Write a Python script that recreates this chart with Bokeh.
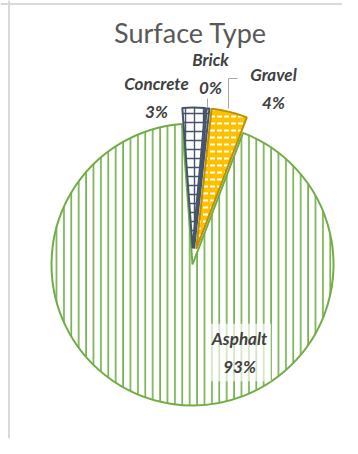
import math
from bokeh.plotting import figure
from bokeh.models import Range1d, Span
from bokeh.core.properties import value
from bokeh.embed import file_html
from bokeh.resources import INLINE

# ---- data ----
title = "Surface Type"
categories = ["Asphalt", "Concrete", "Brick", "Gravel"]
shares = [93.0, 2.6, 0.3, 4.1]

# ---- layout / style ----
W, H = 342, 438
OX, OY = 0, 0                      # page offset of the canvas as observed
CX, CY, R = 192, 264, 141          # pie centre (page px) and radius
FIRST_ANGLE = 21.0                 # degrees clockwise from 12 o'clock
explode = [0, 16, 16, 16]
fills = ["white", "white", "white", "#FFC000"]
hatches = ["|", "+", "+", '"']
hatch_colors = ["#70AD47", "#44546A", "#44546A", "white"]
hatch_scales = [7.4, 9, 9, 7]
hatch_weights = [1.6, 1.4, 1.4, 2.0]
outline_colors = ["#70AD47", "#44546A", "#44546A", "#BF9000"]
# label block centres, page pixels
label_pos = [(239, 352), (156, 97), (210, 73), (273, 88)]

def px(x):
    return x - OX

def py(y):
    return H - (y - OY)

p = figure(width=W, height=H, x_range=Range1d(0, W), y_range=Range1d(0, H),
           output_backend="svg", toolbar_location=None, min_border=0)
p.axis.visible = False
p.grid.visible = False
p.outline_line_color = None
p.background_fill_color = "white"

total = sum(shares)
theta = FIRST_ANGLE
cx, cy = px(CX), py(CY)
for i, (cat, v) in enumerate(zip(categories, shares)):
    span = v / total * 360.0
    a0, a1 = theta, theta + span
    mid = math.radians((a0 + a1) / 2)
    x = cx + explode[i] * math.sin(mid)
    y = cy + explode[i] * math.cos(mid)
    p.wedge(x=[x], y=[y], radius=R,
            start_angle=math.radians(90 - a0), end_angle=math.radians(90 - a1),
            direction="clock",
            fill_color=fills[i], hatch_pattern=hatches[i], hatch_color=hatch_colors[i],
            hatch_scale=hatch_scales[i], hatch_weight=hatch_weights[i],
            line_color=outline_colors[i], line_width=2)
    theta = a1

# leader lines
p.segment(x0=[px(207)], y0=[py(98)], x1=[px(207)], y1=[py(107)],
          line_color="#A6A6A6", line_width=1)
p.line(x=[px(237), px(228), px(228)], y=[py(78), py(78), py(108)],
       line_color="#A6A6A6", line_width=1)

# labels
for i, (cat, v) in enumerate(zip(categories, shares)):
    lx, ly = label_pos[i]
    kw = {}
    if cat == "Asphalt":
        kw = dict(background_fill_color="white", background_fill_alpha=0.65, padding=4)
    p.text(x=[px(lx)], y=[py(ly)], text=[f"{cat}\n{v:.0f}%"],
           text_font=value("Lato"), text_font_style="bold italic",
           text_font_size="17px", text_color="#404040",
           text_align="center", text_baseline="middle", text_line_height=1.35, **kw)

# title
p.text(x=[px(190)], y=[py(32)], text=[title], text_font=value("Lato"),
       text_font_size="27px", text_color="#595959",
       text_align="center", text_baseline="middle")

# chart border (top / left)
p.add_layout(Span(location=px(8.5), dimension="height", line_color="#D9D9D9", line_width=2))
p.add_layout(Span(location=py(3.5), dimension="width", line_color="#D9D9D9", line_width=2))

open("out.html", "w").write(file_html(p, INLINE))
